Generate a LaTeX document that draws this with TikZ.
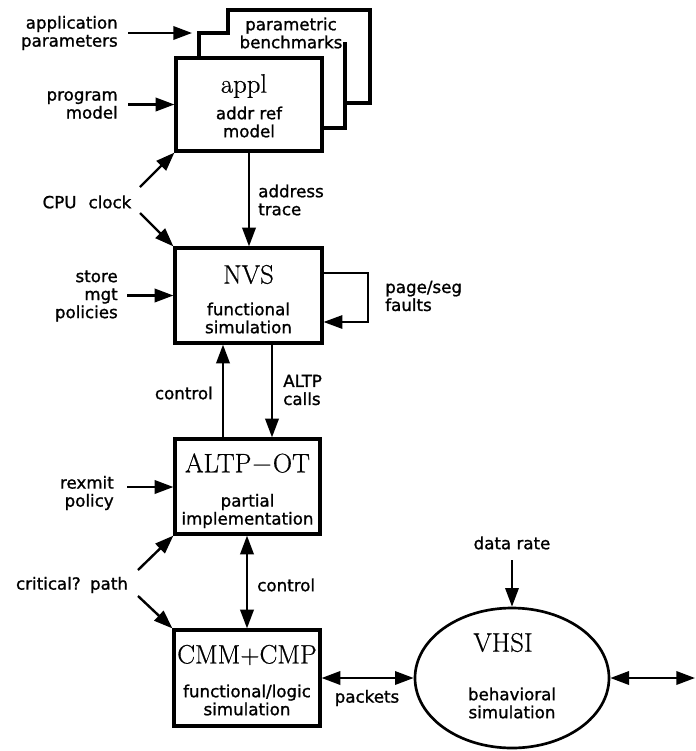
\documentclass[tikz,border=0pt]{standalone}
\usepackage{fontspec}
\usetikzlibrary{arrows.meta,shapes.geometric}
\newfontfamily\labfont[FakeBold=1.2]{DejaVu Sans}
\newfontfamily\ttlfont[FakeBold=0.6]{Latin Modern Roman}
\begin{document}
\begin{tikzpicture}[x=0.75pt,y=-0.75pt,
  box/.style={draw, line width=2.4pt, rectangle, inner sep=0pt},
  lab/.style={font=\labfont\fontsize{12.5}{13.5}\selectfont, inner sep=0pt, align=center},
  ttl/.style={font=\ttlfont\fontsize{20}{22}\selectfont, inner sep=0pt},
  tip/.tip={Triangle[length=14pt,width=10pt]},
  arr/.style={line width=1.8pt, -tip},
  darr/.style={line width=1.8pt, tip-tip}]
\useasboundingbox (0,0) rectangle (696,751);

% stacked boxes behind appl
\draw[line width=2.4pt] (199,58) -- (199,33) -- (228,33) -- (228,10) -- (370,10) -- (370,103) -- (347,103);
\draw[line width=2.4pt] (345,42) -- (345,128) -- (322,128);
\node[lab] (param) at (291,33) {parametric\\benchmarks};

% main boxes
\node[box, minimum width=109.5pt, minimum height=69.75pt] (appl) at (249,104.5) {};
\node[ttl] (applt) at (244,86) {appl};
\node[lab] (appls) at (249,122) {addr ref\\model};

\node[box, minimum width=110.25pt, minimum height=71.25pt] (nvs) at (248.5,295.5) {};
\node[ttl] (nvst) at (248.5,274.5) {NVS};
\node[lab] (nvss) at (248.5,318) {functional\\simulation};

\node[box, minimum width=108.75pt, minimum height=71.25pt] (altp) at (247.5,486.5) {};
\node[ttl] (altpt) at (247.5,464) {ALTP$-$OT};
\node[lab] (altps) at (247.5,511) {partial\\implementation};

\node[box, minimum width=109.5pt, minimum height=72pt] (cmm) at (247,678) {};
\node[ttl] (cmmt) at (247,655) {CMM{+}CMP};
\node[lab] (cmms) at (247,700) {functional/logic\\simulation};

\node[draw, ellipse, line width=2pt, minimum width=145.5pt, minimum height=105pt, inner sep=0pt] (vhsi) at (512,678) {};
\node[ttl] (vhsit) at (503,642.5) {VHSI};
\node[lab] (vhsis) at (512,703) {behavioral\\simulation};

% labels
\node[lab, anchor=east, align=right] (apppar) at (118,33) {application\\parameters};
\node[lab, anchor=east, align=right] (progm) at (118,105) {program\\model};
\node[lab] (cpu) at (87,202) {CPU\hspace{9pt}clock};
\node[lab, anchor=west, align=left] (addr) at (258,200) {address\\trace};
\node[lab, anchor=east, align=right] (store) at (118,296) {store\\mgt\\policies};
\node[lab, anchor=west, align=left] (page) at (385,296) {page/seg\\faults};
\node[lab, anchor=east] (ctl1) at (213,393) {control};
\node[lab, anchor=west, align=left] (calls) at (283,390) {ALTP\\calls};
\node[lab, anchor=east, align=right] (rex) at (114,493) {rexmit\\policy};
\node[lab] (crit) at (72,585) {critical?\hspace{7pt}path};
\node[lab, anchor=west] (ctl2) at (257,585) {control};
\node[lab] (pk) at (367,698) {packets};
\node[lab] (rate) at (512,543) {data rate};

% free-end coordinates
\coordinate (ap1) at (128,33);
\coordinate (ap2) at (192,33);
\coordinate (pm1) at (128,104.5);
\coordinate (cp1) at (140,187);
\coordinate (cp2) at (140,213);
\coordinate (st1) at (127,295.5);
\coordinate (pl1) at (368,273);
\coordinate (pl2) at (368,322);
\coordinate (cx1) at (223,390);
\coordinate (cx2) at (272,390);
\coordinate (rx1) at (127,487);
\coordinate (cr1) at (138,570);
\coordinate (cr2) at (138,596);
\coordinate (cx3) at (247,580);
\coordinate (rt1) at (695,678);
\coordinate (dr1) at (512,560);

% connectors
\draw[arr] (ap1) -- (ap2);
\draw[arr] (pm1) -- (pm1 -| appl.west);
\draw[arr] (cp1) -- (appl.south west);
\draw[arr] (cp2) -- (nvs.north west);
\draw[arr] (appl.south) -- (appl.south |- nvs.north);
\draw[arr] (st1) -- (st1 -| nvs.west);
\draw[line width=1.3pt, -tip] (pl1 -| nvs.east) -- (pl1) -- (pl2) -- (pl2 -| nvs.east);
\draw[arr] (cx1 |- altp.north) -- (cx1 |- nvs.south);
\draw[arr] (cx2 |- nvs.south) -- (cx2 |- altp.north);
\draw[arr] (rx1) -- (rx1 -| altp.west);
\draw[arr] (cr1) -- (altp.south west);
\draw[arr] (cr2) -- (cmm.north west);
\draw[darr] (cx3 |- altp.south) -- (cx3 |- cmm.north);
\draw[darr] (cmm.east) -- (vhsi.west);
\draw[darr] (vhsi.east) -- (rt1);
\draw[arr] (dr1) -- (vhsi.north);
\end{tikzpicture}
\end{document}
